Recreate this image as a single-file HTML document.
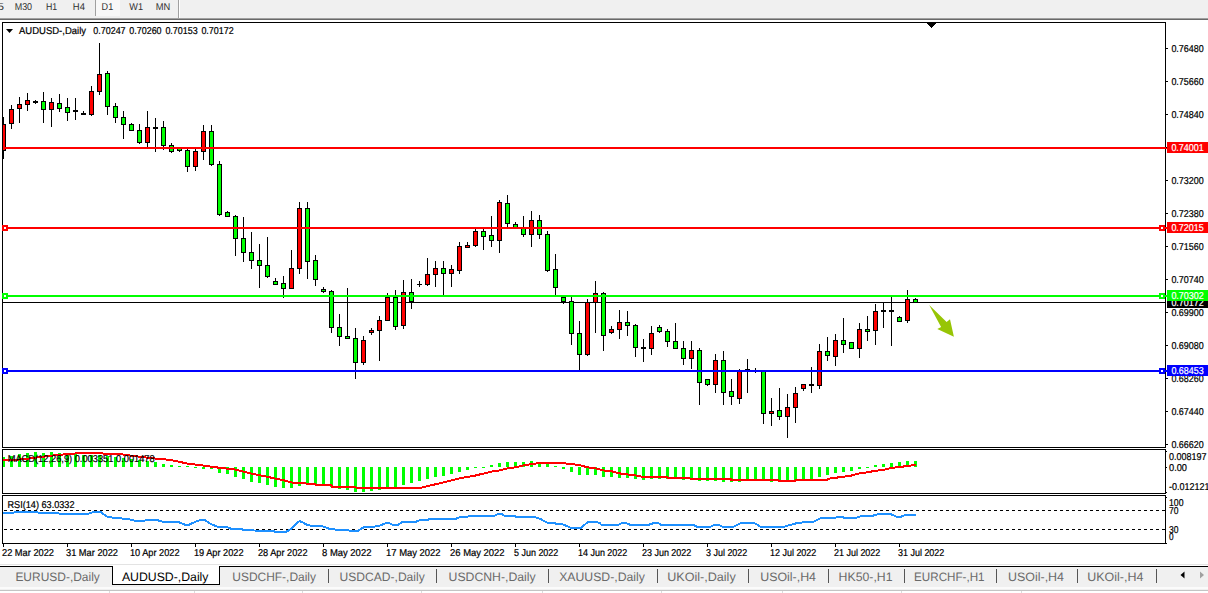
<!DOCTYPE html>
<html><head><meta charset="utf-8"><title>AUDUSD Daily</title>
<style>html,body{margin:0;padding:0;background:#fff;overflow:hidden}svg{display:block}text{font-family:"Liberation Sans",sans-serif}</style></head>
<body>
<svg width="1208" height="593" viewBox="0 0 1208 593" font-family="Liberation Sans, sans-serif" shape-rendering="crispEdges" text-rendering="geometricPrecision">
<rect x="0" y="0" width="1208" height="593" fill="#fff"/>
<rect x="0" y="0" width="1208" height="18" fill="#f0f0f0"/>
<rect x="0" y="18" width="1208" height="1" fill="#a0a0a0"/>
<rect x="0" y="19" width="1208" height="1" fill="#696969"/>
<rect x="96" y="0" width="24" height="16" fill="#f8f8f8"/>
<rect x="95" y="0" width="1" height="16" fill="#a0a0a0"/>
<rect x="178" y="0" width="1" height="18" fill="#a0a0a0"/>
<rect x="179" y="0" width="1" height="18" fill="#fff"/>
<g opacity="0.99">
<text x="-2.5" y="10" font-size="10" fill="#2e2e2e" textLength="6.5" lengthAdjust="spacingAndGlyphs">5</text>
<text x="14.7" y="10" font-size="10" fill="#2e2e2e" textLength="17.4" lengthAdjust="spacingAndGlyphs">M30</text>
<text x="45.9" y="10" font-size="10" fill="#2e2e2e" textLength="11.2" lengthAdjust="spacingAndGlyphs">H1</text>
<text x="72.8" y="10" font-size="10" fill="#2e2e2e" textLength="12.1" lengthAdjust="spacingAndGlyphs">H4</text>
<text x="101.6" y="10" font-size="10" fill="#2e2e2e" textLength="11.6" lengthAdjust="spacingAndGlyphs">D1</text>
<text x="129.3" y="10" font-size="10" fill="#2e2e2e" textLength="13.7" lengthAdjust="spacingAndGlyphs">W1</text>
<text x="155.8" y="10" font-size="10" fill="#2e2e2e" textLength="14.5" lengthAdjust="spacingAndGlyphs">MN</text>
</g>
<clipPath id="cm"><rect x="3" y="23" width="1162" height="424"/></clipPath>
<rect x="3" y="302" width="1162" height="1" fill="#000"/>
<g clip-path="url(#cm)">
<rect x="3" y="117" width="1" height="42" fill="#000"/><rect x="1" y="124" width="5" height="27" fill="#000"/><rect x="2" y="125" width="3" height="25" fill="#f00"/><rect x="11" y="105" width="1" height="24" fill="#000"/><rect x="9" y="109" width="5" height="15" fill="#000"/><rect x="10" y="110" width="3" height="13" fill="#f00"/><rect x="19" y="97" width="1" height="26" fill="#000"/><rect x="17" y="104" width="5" height="5" fill="#000"/><rect x="18" y="105" width="3" height="3" fill="#f00"/><rect x="27" y="93" width="1" height="18" fill="#000"/><rect x="25" y="100" width="5" height="5" fill="#000"/><rect x="26" y="101" width="3" height="3" fill="#f00"/><rect x="35" y="100" width="1" height="4" fill="#000"/><rect x="33" y="101" width="5" height="2" fill="#000"/><rect x="43" y="92" width="1" height="31" fill="#000"/><rect x="41" y="101" width="5" height="9" fill="#000"/><rect x="42" y="102" width="3" height="7" fill="#0f0"/><rect x="51" y="98" width="1" height="29" fill="#000"/><rect x="49" y="102" width="5" height="8" fill="#000"/><rect x="50" y="103" width="3" height="6" fill="#f00"/><rect x="59" y="94" width="1" height="18" fill="#000"/><rect x="57" y="103" width="5" height="6" fill="#000"/><rect x="58" y="104" width="3" height="4" fill="#0f0"/><rect x="67" y="98" width="1" height="23" fill="#000"/><rect x="65" y="107" width="5" height="6" fill="#000"/><rect x="66" y="108" width="3" height="4" fill="#0f0"/><rect x="75" y="98" width="1" height="22" fill="#000"/><rect x="73" y="110" width="5" height="2" fill="#000"/><rect x="83" y="111" width="1" height="4" fill="#000"/><rect x="81" y="113" width="5" height="2" fill="#000"/><rect x="91" y="86" width="1" height="30" fill="#000"/><rect x="89" y="91" width="5" height="24" fill="#000"/><rect x="90" y="92" width="3" height="22" fill="#f00"/><rect x="99" y="43" width="1" height="52" fill="#000"/><rect x="97" y="74" width="5" height="18" fill="#000"/><rect x="98" y="75" width="3" height="16" fill="#f00"/><rect x="107" y="71" width="1" height="44" fill="#000"/><rect x="105" y="73" width="5" height="34" fill="#000"/><rect x="106" y="74" width="3" height="32" fill="#0f0"/><rect x="115" y="103" width="1" height="20" fill="#000"/><rect x="113" y="106" width="5" height="12" fill="#000"/><rect x="114" y="107" width="3" height="10" fill="#0f0"/><rect x="123" y="111" width="1" height="28" fill="#000"/><rect x="121" y="117" width="5" height="8" fill="#000"/><rect x="122" y="118" width="3" height="6" fill="#0f0"/><rect x="131" y="123" width="1" height="8" fill="#000"/><rect x="129" y="124" width="5" height="7" fill="#000"/><rect x="130" y="125" width="3" height="5" fill="#0f0"/><rect x="139" y="124" width="1" height="20" fill="#000"/><rect x="137" y="130" width="5" height="13" fill="#000"/><rect x="138" y="131" width="3" height="11" fill="#0f0"/><rect x="147" y="111" width="1" height="36" fill="#000"/><rect x="145" y="127" width="5" height="16" fill="#000"/><rect x="146" y="128" width="3" height="14" fill="#f00"/><rect x="155" y="118" width="1" height="34" fill="#000"/><rect x="153" y="127" width="5" height="2" fill="#000"/><rect x="163" y="121" width="1" height="29" fill="#000"/><rect x="161" y="127" width="5" height="19" fill="#000"/><rect x="162" y="128" width="3" height="17" fill="#0f0"/><rect x="171" y="143" width="1" height="10" fill="#000"/><rect x="169" y="145" width="5" height="7" fill="#000"/><rect x="170" y="146" width="3" height="5" fill="#0f0"/><rect x="179" y="147" width="1" height="5" fill="#000"/><rect x="177" y="147" width="5" height="4" fill="#000"/><rect x="178" y="148" width="3" height="2" fill="#0f0"/><rect x="187" y="149" width="1" height="23" fill="#000"/><rect x="185" y="150" width="5" height="17" fill="#000"/><rect x="186" y="151" width="3" height="15" fill="#0f0"/><rect x="195" y="149" width="1" height="22" fill="#000"/><rect x="193" y="151" width="5" height="16" fill="#000"/><rect x="194" y="152" width="3" height="14" fill="#f00"/><rect x="203" y="125" width="1" height="35" fill="#000"/><rect x="201" y="131" width="5" height="21" fill="#000"/><rect x="202" y="132" width="3" height="19" fill="#f00"/><rect x="211" y="125" width="1" height="41" fill="#000"/><rect x="209" y="131" width="5" height="34" fill="#000"/><rect x="210" y="132" width="3" height="32" fill="#0f0"/><rect x="219" y="161" width="1" height="55" fill="#000"/><rect x="217" y="164" width="5" height="51" fill="#000"/><rect x="218" y="165" width="3" height="49" fill="#0f0"/><rect x="227" y="211" width="1" height="6" fill="#000"/><rect x="225" y="212" width="5" height="5" fill="#000"/><rect x="226" y="213" width="3" height="3" fill="#0f0"/><rect x="235" y="215" width="1" height="41" fill="#000"/><rect x="233" y="216" width="5" height="23" fill="#000"/><rect x="234" y="217" width="3" height="21" fill="#0f0"/><rect x="243" y="217" width="1" height="45" fill="#000"/><rect x="241" y="238" width="5" height="15" fill="#000"/><rect x="242" y="239" width="3" height="13" fill="#0f0"/><rect x="251" y="232" width="1" height="37" fill="#000"/><rect x="249" y="252" width="5" height="9" fill="#000"/><rect x="250" y="253" width="3" height="7" fill="#0f0"/><rect x="259" y="244" width="1" height="44" fill="#000"/><rect x="257" y="260" width="5" height="6" fill="#000"/><rect x="258" y="261" width="3" height="4" fill="#0f0"/><rect x="267" y="237" width="1" height="41" fill="#000"/><rect x="265" y="265" width="5" height="12" fill="#000"/><rect x="266" y="266" width="3" height="10" fill="#0f0"/><rect x="275" y="278" width="1" height="7" fill="#000"/><rect x="273" y="281" width="5" height="4" fill="#000"/><rect x="274" y="282" width="3" height="2" fill="#0f0"/><rect x="283" y="276" width="1" height="22" fill="#000"/><rect x="281" y="283" width="5" height="6" fill="#000"/><rect x="282" y="284" width="3" height="4" fill="#0f0"/><rect x="291" y="250" width="1" height="39" fill="#000"/><rect x="289" y="268" width="5" height="21" fill="#000"/><rect x="290" y="269" width="3" height="19" fill="#f00"/><rect x="299" y="202" width="1" height="72" fill="#000"/><rect x="297" y="208" width="5" height="61" fill="#000"/><rect x="298" y="209" width="3" height="59" fill="#f00"/><rect x="307" y="202" width="1" height="77" fill="#000"/><rect x="305" y="208" width="5" height="54" fill="#000"/><rect x="306" y="209" width="3" height="52" fill="#0f0"/><rect x="315" y="255" width="1" height="31" fill="#000"/><rect x="313" y="260" width="5" height="20" fill="#000"/><rect x="314" y="261" width="3" height="18" fill="#0f0"/><rect x="323" y="287" width="1" height="6" fill="#000"/><rect x="321" y="289" width="5" height="3" fill="#000"/><rect x="322" y="290" width="3" height="1" fill="#0f0"/><rect x="331" y="290" width="1" height="43" fill="#000"/><rect x="329" y="291" width="5" height="37" fill="#000"/><rect x="330" y="292" width="3" height="35" fill="#0f0"/><rect x="339" y="314" width="1" height="32" fill="#000"/><rect x="337" y="327" width="5" height="10" fill="#000"/><rect x="338" y="328" width="3" height="8" fill="#0f0"/><rect x="347" y="288" width="1" height="51" fill="#000"/><rect x="345" y="336" width="5" height="3" fill="#000"/><rect x="346" y="337" width="3" height="1" fill="#0f0"/><rect x="355" y="328" width="1" height="51" fill="#000"/><rect x="353" y="338" width="5" height="25" fill="#000"/><rect x="354" y="339" width="3" height="23" fill="#0f0"/><rect x="363" y="336" width="1" height="29" fill="#000"/><rect x="361" y="340" width="5" height="23" fill="#000"/><rect x="362" y="341" width="3" height="21" fill="#f00"/><rect x="371" y="328" width="1" height="7" fill="#000"/><rect x="369" y="330" width="5" height="3" fill="#000"/><rect x="370" y="331" width="3" height="1" fill="#f00"/><rect x="379" y="316" width="1" height="45" fill="#000"/><rect x="377" y="320" width="5" height="11" fill="#000"/><rect x="378" y="321" width="3" height="9" fill="#f00"/><rect x="387" y="293" width="1" height="28" fill="#000"/><rect x="385" y="297" width="5" height="24" fill="#000"/><rect x="386" y="298" width="3" height="22" fill="#f00"/><rect x="395" y="290" width="1" height="40" fill="#000"/><rect x="393" y="297" width="5" height="30" fill="#000"/><rect x="394" y="298" width="3" height="28" fill="#0f0"/><rect x="403" y="280" width="1" height="49" fill="#000"/><rect x="401" y="292" width="5" height="34" fill="#000"/><rect x="402" y="293" width="3" height="32" fill="#f00"/><rect x="411" y="279" width="1" height="30" fill="#000"/><rect x="409" y="292" width="5" height="10" fill="#000"/><rect x="410" y="293" width="3" height="8" fill="#0f0"/><rect x="419" y="281" width="1" height="6" fill="#000"/><rect x="417" y="284" width="5" height="1" fill="#000"/><rect x="427" y="258" width="1" height="28" fill="#000"/><rect x="425" y="274" width="5" height="11" fill="#000"/><rect x="426" y="275" width="3" height="9" fill="#f00"/><rect x="435" y="261" width="1" height="26" fill="#000"/><rect x="433" y="268" width="5" height="7" fill="#000"/><rect x="434" y="269" width="3" height="5" fill="#f00"/><rect x="443" y="261" width="1" height="34" fill="#000"/><rect x="441" y="268" width="5" height="6" fill="#000"/><rect x="442" y="269" width="3" height="4" fill="#0f0"/><rect x="451" y="265" width="1" height="22" fill="#000"/><rect x="449" y="269" width="5" height="5" fill="#000"/><rect x="450" y="270" width="3" height="3" fill="#f00"/><rect x="459" y="242" width="1" height="32" fill="#000"/><rect x="457" y="246" width="5" height="25" fill="#000"/><rect x="458" y="247" width="3" height="23" fill="#f00"/><rect x="467" y="242" width="1" height="6" fill="#000"/><rect x="465" y="245" width="5" height="3" fill="#000"/><rect x="466" y="246" width="3" height="1" fill="#f00"/><rect x="475" y="229" width="1" height="18" fill="#000"/><rect x="473" y="231" width="5" height="15" fill="#000"/><rect x="474" y="232" width="3" height="13" fill="#f00"/><rect x="483" y="229" width="1" height="21" fill="#000"/><rect x="481" y="231" width="5" height="6" fill="#000"/><rect x="482" y="232" width="3" height="4" fill="#0f0"/><rect x="491" y="216" width="1" height="31" fill="#000"/><rect x="489" y="235" width="5" height="6" fill="#000"/><rect x="490" y="236" width="3" height="4" fill="#0f0"/><rect x="499" y="200" width="1" height="53" fill="#000"/><rect x="497" y="202" width="5" height="39" fill="#000"/><rect x="498" y="203" width="3" height="37" fill="#f00"/><rect x="507" y="195" width="1" height="32" fill="#000"/><rect x="505" y="203" width="5" height="21" fill="#000"/><rect x="506" y="204" width="3" height="19" fill="#0f0"/><rect x="515" y="222" width="1" height="7" fill="#000"/><rect x="513" y="224" width="5" height="5" fill="#000"/><rect x="514" y="225" width="3" height="3" fill="#0f0"/><rect x="523" y="216" width="1" height="21" fill="#000"/><rect x="521" y="228" width="5" height="7" fill="#000"/><rect x="522" y="229" width="3" height="5" fill="#0f0"/><rect x="531" y="211" width="1" height="36" fill="#000"/><rect x="529" y="220" width="5" height="15" fill="#000"/><rect x="530" y="221" width="3" height="13" fill="#f00"/><rect x="539" y="215" width="1" height="24" fill="#000"/><rect x="537" y="220" width="5" height="15" fill="#000"/><rect x="538" y="221" width="3" height="13" fill="#0f0"/><rect x="547" y="231" width="1" height="41" fill="#000"/><rect x="545" y="234" width="5" height="37" fill="#000"/><rect x="546" y="235" width="3" height="35" fill="#0f0"/><rect x="555" y="254" width="1" height="41" fill="#000"/><rect x="553" y="269" width="5" height="19" fill="#000"/><rect x="554" y="270" width="3" height="17" fill="#0f0"/><rect x="563" y="297" width="1" height="7" fill="#000"/><rect x="561" y="297" width="5" height="5" fill="#000"/><rect x="562" y="298" width="3" height="3" fill="#0f0"/><rect x="571" y="297" width="1" height="48" fill="#000"/><rect x="569" y="301" width="5" height="33" fill="#000"/><rect x="570" y="302" width="3" height="31" fill="#0f0"/><rect x="579" y="321" width="1" height="49" fill="#000"/><rect x="577" y="333" width="5" height="22" fill="#000"/><rect x="578" y="334" width="3" height="20" fill="#0f0"/><rect x="587" y="299" width="1" height="57" fill="#000"/><rect x="585" y="302" width="5" height="53" fill="#000"/><rect x="586" y="303" width="3" height="51" fill="#f00"/><rect x="595" y="281" width="1" height="52" fill="#000"/><rect x="593" y="293" width="5" height="10" fill="#000"/><rect x="594" y="294" width="3" height="8" fill="#f00"/><rect x="603" y="292" width="1" height="59" fill="#000"/><rect x="601" y="293" width="5" height="43" fill="#000"/><rect x="602" y="294" width="3" height="41" fill="#0f0"/><rect x="611" y="326" width="1" height="8" fill="#000"/><rect x="609" y="329" width="5" height="4" fill="#000"/><rect x="610" y="330" width="3" height="2" fill="#f00"/><rect x="619" y="310" width="1" height="29" fill="#000"/><rect x="617" y="322" width="5" height="8" fill="#000"/><rect x="618" y="323" width="3" height="6" fill="#f00"/><rect x="627" y="311" width="1" height="25" fill="#000"/><rect x="625" y="322" width="5" height="4" fill="#000"/><rect x="626" y="323" width="3" height="2" fill="#0f0"/><rect x="635" y="324" width="1" height="33" fill="#000"/><rect x="633" y="325" width="5" height="23" fill="#000"/><rect x="634" y="326" width="3" height="21" fill="#0f0"/><rect x="643" y="339" width="1" height="23" fill="#000"/><rect x="641" y="347" width="5" height="2" fill="#000"/><rect x="651" y="326" width="1" height="29" fill="#000"/><rect x="649" y="333" width="5" height="16" fill="#000"/><rect x="650" y="334" width="3" height="14" fill="#f00"/><rect x="659" y="325" width="1" height="8" fill="#000"/><rect x="657" y="327" width="5" height="5" fill="#000"/><rect x="658" y="328" width="3" height="3" fill="#0f0"/><rect x="667" y="329" width="1" height="18" fill="#000"/><rect x="665" y="331" width="5" height="11" fill="#000"/><rect x="666" y="332" width="3" height="9" fill="#0f0"/><rect x="675" y="323" width="1" height="26" fill="#000"/><rect x="673" y="341" width="5" height="8" fill="#000"/><rect x="674" y="342" width="3" height="6" fill="#0f0"/><rect x="683" y="341" width="1" height="24" fill="#000"/><rect x="681" y="348" width="5" height="11" fill="#000"/><rect x="682" y="349" width="3" height="9" fill="#0f0"/><rect x="691" y="341" width="1" height="28" fill="#000"/><rect x="689" y="350" width="5" height="9" fill="#000"/><rect x="690" y="351" width="3" height="7" fill="#f00"/><rect x="699" y="348" width="1" height="57" fill="#000"/><rect x="697" y="350" width="5" height="33" fill="#000"/><rect x="698" y="351" width="3" height="31" fill="#0f0"/><rect x="707" y="379" width="1" height="7" fill="#000"/><rect x="705" y="379" width="5" height="6" fill="#000"/><rect x="706" y="380" width="3" height="4" fill="#0f0"/><rect x="715" y="354" width="1" height="39" fill="#000"/><rect x="713" y="360" width="5" height="25" fill="#000"/><rect x="714" y="361" width="3" height="23" fill="#f00"/><rect x="723" y="351" width="1" height="54" fill="#000"/><rect x="721" y="360" width="5" height="33" fill="#000"/><rect x="722" y="361" width="3" height="31" fill="#0f0"/><rect x="731" y="379" width="1" height="26" fill="#000"/><rect x="729" y="391" width="5" height="6" fill="#000"/><rect x="730" y="392" width="3" height="4" fill="#0f0"/><rect x="739" y="369" width="1" height="35" fill="#000"/><rect x="737" y="371" width="5" height="28" fill="#000"/><rect x="738" y="372" width="3" height="26" fill="#f00"/><rect x="747" y="359" width="1" height="34" fill="#000"/><rect x="745" y="369" width="5" height="2" fill="#000"/><rect x="755" y="368" width="1" height="5" fill="#000"/><rect x="753" y="370" width="5" height="1" fill="#000"/><rect x="763" y="371" width="1" height="53" fill="#000"/><rect x="761" y="371" width="5" height="43" fill="#000"/><rect x="762" y="372" width="3" height="41" fill="#0f0"/><rect x="771" y="398" width="1" height="28" fill="#000"/><rect x="769" y="411" width="5" height="3" fill="#000"/><rect x="770" y="412" width="3" height="1" fill="#f00"/><rect x="779" y="388" width="1" height="32" fill="#000"/><rect x="777" y="410" width="5" height="7" fill="#000"/><rect x="778" y="411" width="3" height="5" fill="#0f0"/><rect x="787" y="394" width="1" height="44" fill="#000"/><rect x="785" y="407" width="5" height="10" fill="#000"/><rect x="786" y="408" width="3" height="8" fill="#f00"/><rect x="795" y="387" width="1" height="36" fill="#000"/><rect x="793" y="393" width="5" height="15" fill="#000"/><rect x="794" y="394" width="3" height="13" fill="#f00"/><rect x="803" y="384" width="1" height="7" fill="#000"/><rect x="801" y="384" width="5" height="5" fill="#000"/><rect x="802" y="385" width="3" height="3" fill="#f00"/><rect x="811" y="367" width="1" height="26" fill="#000"/><rect x="809" y="384" width="5" height="2" fill="#000"/><rect x="819" y="344" width="1" height="45" fill="#000"/><rect x="817" y="351" width="5" height="35" fill="#000"/><rect x="818" y="352" width="3" height="33" fill="#f00"/><rect x="827" y="337" width="1" height="24" fill="#000"/><rect x="825" y="351" width="5" height="5" fill="#000"/><rect x="826" y="352" width="3" height="3" fill="#0f0"/><rect x="835" y="334" width="1" height="32" fill="#000"/><rect x="833" y="340" width="5" height="17" fill="#000"/><rect x="834" y="341" width="3" height="15" fill="#f00"/><rect x="843" y="318" width="1" height="35" fill="#000"/><rect x="841" y="340" width="5" height="5" fill="#000"/><rect x="842" y="341" width="3" height="3" fill="#0f0"/><rect x="851" y="342" width="1" height="7" fill="#000"/><rect x="849" y="342" width="5" height="7" fill="#000"/><rect x="850" y="343" width="3" height="5" fill="#0f0"/><rect x="859" y="323" width="1" height="35" fill="#000"/><rect x="857" y="329" width="5" height="20" fill="#000"/><rect x="858" y="330" width="3" height="18" fill="#f00"/><rect x="867" y="316" width="1" height="25" fill="#000"/><rect x="865" y="329" width="5" height="3" fill="#000"/><rect x="866" y="330" width="3" height="1" fill="#0f0"/><rect x="875" y="304" width="1" height="41" fill="#000"/><rect x="873" y="311" width="5" height="20" fill="#000"/><rect x="874" y="312" width="3" height="18" fill="#f00"/><rect x="883" y="302" width="1" height="26" fill="#000"/><rect x="881" y="310" width="5" height="2" fill="#000"/><rect x="891" y="297" width="1" height="49" fill="#000"/><rect x="889" y="310" width="5" height="2" fill="#000"/><rect x="899" y="316" width="1" height="6" fill="#000"/><rect x="897" y="317" width="5" height="5" fill="#000"/><rect x="898" y="318" width="3" height="3" fill="#0f0"/><rect x="907" y="290" width="1" height="33" fill="#000"/><rect x="905" y="299" width="5" height="22" fill="#000"/><rect x="906" y="300" width="3" height="20" fill="#f00"/><rect x="915" y="298" width="1" height="5" fill="#000"/><rect x="913" y="299" width="5" height="4" fill="#000"/><rect x="914" y="300" width="3" height="2" fill="#0f0"/>
</g>
<rect x="2" y="22" width="1164" height="1" fill="#000"/><rect x="2" y="447" width="1164" height="1" fill="#000"/><rect x="2" y="22" width="1" height="426" fill="#000"/><rect x="1165" y="22" width="1" height="426" fill="#000"/>
<rect x="927" y="23" width="9" height="1" fill="#000"/>
<rect x="928" y="24" width="7" height="1" fill="#000"/>
<rect x="929" y="25" width="5" height="1" fill="#000"/>
<rect x="930" y="26" width="3" height="1" fill="#000"/>
<rect x="931" y="27" width="1" height="1" fill="#000"/>
<rect x="3" y="147" width="1164" height="2" fill="#f00"/>
<rect x="3" y="227" width="1164" height="2" fill="#f00"/>
<rect x="3" y="295" width="1164" height="2" fill="#0f0"/>
<rect x="3" y="370" width="1164" height="2" fill="#00f"/>
<polygon shape-rendering="auto" points="929.2,305.1 946.6,322 950,319.3 953.9,336.7 937.3,329.1 941.1,327" fill="#97c505"/>
<rect x="2" y="225" width="6" height="6" fill="#f00"/><rect x="4" y="227" width="2" height="2" fill="#fff"/>
<rect x="1159" y="225" width="6" height="6" fill="#f00"/><rect x="1161" y="227" width="2" height="2" fill="#fff"/>
<rect x="2" y="293" width="6" height="6" fill="#0f0"/><rect x="4" y="295" width="2" height="2" fill="#fff"/>
<rect x="1159" y="293" width="6" height="6" fill="#0f0"/><rect x="1161" y="295" width="2" height="2" fill="#fff"/>
<rect x="2" y="368" width="6" height="6" fill="#00f"/><rect x="4" y="370" width="2" height="2" fill="#fff"/>
<rect x="1159" y="368" width="6" height="6" fill="#00f"/><rect x="1161" y="370" width="2" height="2" fill="#fff"/>
<rect x="1166" y="48" width="2" height="1" fill="#000"/>
<text x="1171.4" y="52" font-size="10" fill="#000" textLength="32.3" lengthAdjust="spacingAndGlyphs" stroke="#000" stroke-width="0.22">0.76480</text>
<rect x="1166" y="81" width="2" height="1" fill="#000"/>
<text x="1171.4" y="85" font-size="10" fill="#000" textLength="32.3" lengthAdjust="spacingAndGlyphs" stroke="#000" stroke-width="0.22">0.75660</text>
<rect x="1166" y="114" width="2" height="1" fill="#000"/>
<text x="1171.4" y="118" font-size="10" fill="#000" textLength="32.3" lengthAdjust="spacingAndGlyphs" stroke="#000" stroke-width="0.22">0.74840</text>
<rect x="1166" y="147" width="2" height="1" fill="#000"/>
<text x="1171.4" y="151" font-size="10" fill="#000" textLength="32.3" lengthAdjust="spacingAndGlyphs" stroke="#000" stroke-width="0.22">0.74020</text>
<rect x="1166" y="180" width="2" height="1" fill="#000"/>
<text x="1171.4" y="184" font-size="10" fill="#000" textLength="32.3" lengthAdjust="spacingAndGlyphs" stroke="#000" stroke-width="0.22">0.73200</text>
<rect x="1166" y="213" width="2" height="1" fill="#000"/>
<text x="1171.4" y="217" font-size="10" fill="#000" textLength="32.3" lengthAdjust="spacingAndGlyphs" stroke="#000" stroke-width="0.22">0.72380</text>
<rect x="1166" y="246" width="2" height="1" fill="#000"/>
<text x="1171.4" y="250" font-size="10" fill="#000" textLength="32.3" lengthAdjust="spacingAndGlyphs" stroke="#000" stroke-width="0.22">0.71560</text>
<rect x="1166" y="279" width="2" height="1" fill="#000"/>
<text x="1171.4" y="283" font-size="10" fill="#000" textLength="32.3" lengthAdjust="spacingAndGlyphs" stroke="#000" stroke-width="0.22">0.70740</text>
<rect x="1166" y="312" width="2" height="1" fill="#000"/>
<text x="1171.4" y="316" font-size="10" fill="#000" textLength="32.3" lengthAdjust="spacingAndGlyphs" stroke="#000" stroke-width="0.22">0.69900</text>
<rect x="1166" y="345" width="2" height="1" fill="#000"/>
<text x="1171.4" y="349" font-size="10" fill="#000" textLength="32.3" lengthAdjust="spacingAndGlyphs" stroke="#000" stroke-width="0.22">0.69080</text>
<rect x="1166" y="378" width="2" height="1" fill="#000"/>
<text x="1171.4" y="382" font-size="10" fill="#000" textLength="32.3" lengthAdjust="spacingAndGlyphs" stroke="#000" stroke-width="0.22">0.68260</text>
<rect x="1166" y="411" width="2" height="1" fill="#000"/>
<text x="1171.4" y="415" font-size="10" fill="#000" textLength="32.3" lengthAdjust="spacingAndGlyphs" stroke="#000" stroke-width="0.22">0.67440</text>
<rect x="1166" y="444" width="2" height="1" fill="#000"/>
<text x="1171.4" y="448" font-size="10" fill="#000" textLength="32.3" lengthAdjust="spacingAndGlyphs" stroke="#000" stroke-width="0.22">0.66620</text>
<rect x="1167" y="297" width="41" height="11" fill="#000"/><text x="1171.4" y="306" font-size="10" fill="#fff" textLength="32.3" lengthAdjust="spacingAndGlyphs" stroke="#fff" stroke-width="0.22">0.70172</text>
<rect x="1167" y="142" width="41" height="11" fill="#f00"/><text x="1171.4" y="151" font-size="10" fill="#fff" textLength="32.3" lengthAdjust="spacingAndGlyphs" stroke="#fff" stroke-width="0.22">0.74001</text>
<rect x="1167" y="222" width="41" height="11" fill="#f00"/><text x="1171.4" y="231" font-size="10" fill="#fff" textLength="32.3" lengthAdjust="spacingAndGlyphs" stroke="#fff" stroke-width="0.22">0.72015</text>
<rect x="1167" y="290" width="41" height="11" fill="#0f0"/><text x="1171.4" y="299" font-size="10" fill="#fff" textLength="32.3" lengthAdjust="spacingAndGlyphs" stroke="#fff" stroke-width="0.22">0.70302</text>
<rect x="1167" y="365" width="41" height="11" fill="#00f"/><text x="1171.4" y="374" font-size="10" fill="#fff" textLength="32.3" lengthAdjust="spacingAndGlyphs" stroke="#fff" stroke-width="0.22">0.68453</text>
<polygon points="6,29 13,29 9.5,33" fill="#000" shape-rendering="auto"/>
<text x="19" y="34" font-size="10" fill="#000" textLength="67" lengthAdjust="spacingAndGlyphs" stroke="#000" stroke-width="0.22">AUDUSD-,Daily</text>
<text x="93.3" y="34" font-size="10" fill="#000" textLength="32.3" lengthAdjust="spacingAndGlyphs" stroke="#000" stroke-width="0.22">0.70247</text>
<text x="129.3" y="34" font-size="10" fill="#000" textLength="32.3" lengthAdjust="spacingAndGlyphs" stroke="#000" stroke-width="0.22">0.70260</text>
<text x="165.4" y="34" font-size="10" fill="#000" textLength="32.3" lengthAdjust="spacingAndGlyphs" stroke="#000" stroke-width="0.22">0.70153</text>
<text x="201.4" y="34" font-size="10" fill="#000" textLength="32.3" lengthAdjust="spacingAndGlyphs" stroke="#000" stroke-width="0.22">0.70172</text>
<clipPath id="c2"><rect x="3" y="450" width="1162" height="43"/></clipPath>
<g clip-path="url(#c2)">
<rect x="2" y="457" width="3" height="10" fill="#0f0"/><rect x="10" y="456" width="3" height="11" fill="#0f0"/><rect x="18" y="454" width="3" height="13" fill="#0f0"/><rect x="26" y="453" width="3" height="14" fill="#0f0"/><rect x="34" y="452" width="3" height="15" fill="#0f0"/><rect x="42" y="453" width="3" height="14" fill="#0f0"/><rect x="50" y="452" width="3" height="15" fill="#0f0"/><rect x="58" y="453" width="3" height="14" fill="#0f0"/><rect x="66" y="453" width="3" height="14" fill="#0f0"/><rect x="74" y="454" width="3" height="13" fill="#0f0"/><rect x="82" y="455" width="3" height="12" fill="#0f0"/><rect x="90" y="455" width="3" height="12" fill="#0f0"/><rect x="98" y="455" width="3" height="12" fill="#0f0"/><rect x="106" y="456" width="3" height="11" fill="#0f0"/><rect x="114" y="457" width="3" height="10" fill="#0f0"/><rect x="122" y="458" width="3" height="9" fill="#0f0"/><rect x="130" y="459" width="3" height="8" fill="#0f0"/><rect x="138" y="460" width="3" height="7" fill="#0f0"/><rect x="146" y="461" width="3" height="6" fill="#0f0"/><rect x="154" y="462" width="3" height="5" fill="#0f0"/><rect x="162" y="464" width="3" height="3" fill="#0f0"/><rect x="170" y="465" width="3" height="2" fill="#0f0"/><rect x="178" y="466" width="3" height="1" fill="#0f0"/><rect x="186" y="466" width="3" height="1" fill="#0f0"/><rect x="194" y="467" width="3" height="1" fill="#0f0"/><rect x="202" y="467" width="3" height="2" fill="#0f0"/><rect x="210" y="467" width="3" height="2" fill="#0f0"/><rect x="218" y="467" width="3" height="6" fill="#0f0"/><rect x="226" y="467" width="3" height="7" fill="#0f0"/><rect x="234" y="467" width="3" height="10" fill="#0f0"/><rect x="242" y="467" width="3" height="12" fill="#0f0"/><rect x="250" y="467" width="3" height="15" fill="#0f0"/><rect x="258" y="467" width="3" height="16" fill="#0f0"/><rect x="266" y="467" width="3" height="18" fill="#0f0"/><rect x="274" y="467" width="3" height="20" fill="#0f0"/><rect x="282" y="467" width="3" height="21" fill="#0f0"/><rect x="290" y="467" width="3" height="21" fill="#0f0"/><rect x="298" y="467" width="3" height="19" fill="#0f0"/><rect x="306" y="467" width="3" height="16" fill="#0f0"/><rect x="314" y="467" width="3" height="17" fill="#0f0"/><rect x="322" y="467" width="3" height="17" fill="#0f0"/><rect x="330" y="467" width="3" height="20" fill="#0f0"/><rect x="338" y="467" width="3" height="22" fill="#0f0"/><rect x="346" y="467" width="3" height="23" fill="#0f0"/><rect x="354" y="467" width="3" height="25" fill="#0f0"/><rect x="362" y="467" width="3" height="25" fill="#0f0"/><rect x="370" y="467" width="3" height="24" fill="#0f0"/><rect x="378" y="467" width="3" height="23" fill="#0f0"/><rect x="386" y="467" width="3" height="21" fill="#0f0"/><rect x="394" y="467" width="3" height="21" fill="#0f0"/><rect x="402" y="467" width="3" height="18" fill="#0f0"/><rect x="410" y="467" width="3" height="16" fill="#0f0"/><rect x="418" y="467" width="3" height="14" fill="#0f0"/><rect x="426" y="467" width="3" height="12" fill="#0f0"/><rect x="434" y="467" width="3" height="10" fill="#0f0"/><rect x="442" y="467" width="3" height="9" fill="#0f0"/><rect x="450" y="467" width="3" height="7" fill="#0f0"/><rect x="458" y="467" width="3" height="5" fill="#0f0"/><rect x="466" y="467" width="3" height="3" fill="#0f0"/><rect x="474" y="467" width="3" height="1" fill="#0f0"/><rect x="482" y="467" width="3" height="1" fill="#0f0"/><rect x="490" y="465" width="3" height="2" fill="#0f0"/><rect x="498" y="463" width="3" height="4" fill="#0f0"/><rect x="506" y="462" width="3" height="5" fill="#0f0"/><rect x="514" y="462" width="3" height="5" fill="#0f0"/><rect x="522" y="462" width="3" height="5" fill="#0f0"/><rect x="530" y="461" width="3" height="6" fill="#0f0"/><rect x="538" y="462" width="3" height="5" fill="#0f0"/><rect x="546" y="464" width="3" height="3" fill="#0f0"/><rect x="554" y="466" width="3" height="1" fill="#0f0"/><rect x="562" y="467" width="3" height="2" fill="#0f0"/><rect x="570" y="467" width="3" height="5" fill="#0f0"/><rect x="578" y="467" width="3" height="8" fill="#0f0"/><rect x="586" y="467" width="3" height="8" fill="#0f0"/><rect x="594" y="467" width="3" height="8" fill="#0f0"/><rect x="602" y="467" width="3" height="10" fill="#0f0"/><rect x="610" y="467" width="3" height="10" fill="#0f0"/><rect x="618" y="467" width="3" height="11" fill="#0f0"/><rect x="626" y="467" width="3" height="11" fill="#0f0"/><rect x="634" y="467" width="3" height="12" fill="#0f0"/><rect x="642" y="467" width="3" height="13" fill="#0f0"/><rect x="650" y="467" width="3" height="12" fill="#0f0"/><rect x="658" y="467" width="3" height="12" fill="#0f0"/><rect x="666" y="467" width="3" height="12" fill="#0f0"/><rect x="674" y="467" width="3" height="12" fill="#0f0"/><rect x="682" y="467" width="3" height="13" fill="#0f0"/><rect x="690" y="467" width="3" height="12" fill="#0f0"/><rect x="698" y="467" width="3" height="14" fill="#0f0"/><rect x="706" y="467" width="3" height="14" fill="#0f0"/><rect x="714" y="467" width="3" height="14" fill="#0f0"/><rect x="722" y="467" width="3" height="15" fill="#0f0"/><rect x="730" y="467" width="3" height="15" fill="#0f0"/><rect x="738" y="467" width="3" height="15" fill="#0f0"/><rect x="746" y="467" width="3" height="13" fill="#0f0"/><rect x="754" y="467" width="3" height="13" fill="#0f0"/><rect x="762" y="467" width="3" height="13" fill="#0f0"/><rect x="770" y="467" width="3" height="15" fill="#0f0"/><rect x="778" y="467" width="3" height="14" fill="#0f0"/><rect x="786" y="467" width="3" height="14" fill="#0f0"/><rect x="794" y="467" width="3" height="14" fill="#0f0"/><rect x="802" y="467" width="3" height="12" fill="#0f0"/><rect x="810" y="467" width="3" height="12" fill="#0f0"/><rect x="818" y="467" width="3" height="10" fill="#0f0"/><rect x="826" y="467" width="3" height="8" fill="#0f0"/><rect x="834" y="467" width="3" height="6" fill="#0f0"/><rect x="842" y="467" width="3" height="5" fill="#0f0"/><rect x="850" y="467" width="3" height="4" fill="#0f0"/><rect x="858" y="467" width="3" height="2" fill="#0f0"/><rect x="866" y="467" width="3" height="1" fill="#0f0"/><rect x="874" y="465" width="3" height="2" fill="#0f0"/><rect x="882" y="464" width="3" height="3" fill="#0f0"/><rect x="890" y="463" width="3" height="4" fill="#0f0"/><rect x="898" y="462" width="3" height="5" fill="#0f0"/><rect x="906" y="461" width="3" height="6" fill="#0f0"/><rect x="914" y="461" width="3" height="6" fill="#0f0"/>
<polyline points="3.0,460.1 11.0,459.9 19.0,459.5 27.0,458.7 35.0,457.8 43.0,456.7 51.0,455.7 59.0,454.9 67.0,454.1 75.0,453.5 83.0,453.1 91.0,453.0 99.0,453.2 107.0,453.8 115.0,454.1 123.0,454.5 131.5,455.8 154.6,458.5 171.0,460.0 187.0,463.5 202.6,465.5 219.0,467.7 235.0,469.5 250.7,473.5 267.2,476.8 283.0,480.1 292.0,482.6 300.0,483.3 315.0,483.8 316.0,485.0 331.0,485.0 332.0,486.5 355.0,486.5 356.0,487.5 372.0,487.5 373.0,488.3 418.4,488.3 425.8,486.5 442.4,482.7 459.0,478.5 475.5,475.5 492.0,471.5 500.0,470.3 507.5,468.3 515.7,467.3 523.0,465.5 531.5,464.1 539.7,463.1 563.0,463.1 571.0,464.1 579.5,465.0 587.0,467.3 595.0,468.3 603.5,470.5 611.0,471.1 619.0,473.3 627.5,474.4 635.8,475.5 643.0,476.8 667.0,477.2 668.0,478.1 700.0,478.7 730.6,478.9 731.5,480.2 778.6,480.2 779.5,481.4 795.0,481.4 796.0,480.2 826.7,480.2 827.5,478.9 835.8,477.7 843.0,476.9 851.5,475.5 859.0,473.5 867.0,472.3 875.5,470.8 883.8,469.8 892.0,467.8 900.0,467.0 907.0,466.0 916.0,464.9" fill="none" stroke="#f00" stroke-width="2"/>
</g>
<rect x="2" y="449" width="1164" height="1" fill="#000"/><rect x="2" y="493" width="1164" height="1" fill="#000"/><rect x="2" y="449" width="1" height="45" fill="#000"/><rect x="1165" y="449" width="1" height="45" fill="#000"/>
<text x="7.7" y="462" font-size="10" fill="#000" textLength="147" lengthAdjust="spacingAndGlyphs" stroke="#000" stroke-width="0.22">MACD(12,26,9) 0.003351 0.001478</text>
<rect x="1166" y="451" width="1" height="1" fill="#000"/>
<rect x="1166" y="467" width="1" height="1" fill="#000"/>
<rect x="1166" y="492" width="1" height="1" fill="#000"/>
<text x="1169" y="460" font-size="10" fill="#000" textLength="37.5" lengthAdjust="spacingAndGlyphs" stroke="#000" stroke-width="0.22">0.008197</text>
<text x="1169" y="471" font-size="10" fill="#000" textLength="18" lengthAdjust="spacingAndGlyphs" stroke="#000" stroke-width="0.22">0.00</text>
<text x="1169" y="490" font-size="10" fill="#000" textLength="40.5" lengthAdjust="spacingAndGlyphs" stroke="#000" stroke-width="0.22">-0.012121</text>
<clipPath id="c3"><rect x="3" y="496" width="1162" height="47"/></clipPath>
<g clip-path="url(#c3)">
<line x1="4" y1="510.5" x2="1165" y2="510.5" stroke="#000" stroke-width="1" stroke-dasharray="3 3"/>
<line x1="4" y1="529.5" x2="1165" y2="529.5" stroke="#000" stroke-width="1" stroke-dasharray="3 3"/>
<polyline points="3.0,512.9 11.6,512.9 19.9,511.7 35.6,511.7 39.7,512.9 58.8,513.4 60.4,514.2 86.9,514.2 95.2,511.6 100.2,511.6 107.6,517.0 115.9,517.9 124.2,518.7 131.6,519.8 136.6,521.2 142.4,521.2 149.0,519.5 154.8,519.5 163.9,522.0 179.6,522.5 184.6,524.5 189.6,524.5 195.4,521.7 200.0,520.3 205.0,520.0 210.0,523.6 218.2,527.0 227.3,527.3 232.3,529.1 242.2,529.4 244.7,530.3 258.8,530.6 260.4,531.4 274.5,531.4 276.2,532.3 285.3,532.3 290.2,529.4 299.3,521.2 301.3,521.7 307.6,525.0 312.6,526.1 323.3,526.5 330.8,529.4 346.5,529.8 349.0,530.6 358.1,530.6 363.9,527.3 370.5,527.0 378.8,526.1 385.4,523.3 389.6,523.3 393.7,525.3 397.0,525.3 400.0,523.6 402.5,522.0 414.9,522.0 419.9,520.3 427.3,520.3 429.0,519.2 454.6,519.2 460.4,517.0 466.2,517.0 468.7,516.2 493.5,516.2 497.7,514.2 501.8,514.2 505.1,516.2 515.0,516.2 516.7,517.0 534.9,517.0 540.7,519.2 548.2,523.1 554.8,523.1 556.5,524.1 563.1,524.5 572.2,528.3 580.5,528.3 587.9,522.0 597.0,522.0 600.0,523.3 601.0,524.5 619.0,524.5 621.5,523.3 626.5,523.3 631.5,525.3 647.2,525.3 653.0,523.3 658.8,523.3 660.4,524.5 666.2,524.5 668.7,525.3 694.4,525.3 697.7,527.3 709.3,527.3 713.4,525.3 719.2,525.3 724.2,527.3 732.5,527.3 740.7,523.3 754.8,523.3 761.4,527.3 783.0,527.3 787.9,525.6 796.2,523.3 804.0,522.3 813.1,522.0 820.6,518.2 835.5,517.9 837.1,517.0 842.9,517.0 844.6,518.2 854.5,518.2 861.1,516.2 871.1,516.2 876.9,514.5 890.9,514.2 895.9,516.5 901.7,516.5 905.8,514.5 915.8,514.5" fill="none" stroke="#1e90ff" stroke-width="2"/>
</g>
<rect x="2" y="495" width="1164" height="1" fill="#000"/><rect x="2" y="543" width="1164" height="1" fill="#000"/><rect x="2" y="495" width="1" height="49" fill="#000"/><rect x="1165" y="495" width="1" height="49" fill="#000"/>
<text x="7.5" y="508" font-size="10" fill="#000" textLength="67" lengthAdjust="spacingAndGlyphs" stroke="#000" stroke-width="0.22">RSI(14) 63.0332</text>
<rect x="1166" y="497" width="1" height="1" fill="#000"/>
<rect x="1166" y="543" width="1" height="1" fill="#000"/>
<text x="1169" y="506" font-size="10" fill="#000" textLength="14.5" lengthAdjust="spacingAndGlyphs" stroke="#000" stroke-width="0.22">100</text>
<text x="1169" y="514" font-size="10" fill="#000" textLength="9.5" lengthAdjust="spacingAndGlyphs" stroke="#000" stroke-width="0.22">70</text>
<text x="1169" y="533" font-size="10" fill="#000" textLength="9.5" lengthAdjust="spacingAndGlyphs" stroke="#000" stroke-width="0.22">30</text>
<text x="1169" y="540" font-size="10" fill="#000" textLength="4.6" lengthAdjust="spacingAndGlyphs" stroke="#000" stroke-width="0.22">0</text>
<rect x="3" y="544" width="1" height="3" fill="#000"/>
<text x="2" y="556" font-size="10" fill="#000" textLength="52.0" lengthAdjust="spacingAndGlyphs" stroke="#000" stroke-width="0.22">22 Mar 2022</text>
<rect x="67" y="544" width="1" height="3" fill="#000"/>
<text x="66" y="556" font-size="10" fill="#000" textLength="52.0" lengthAdjust="spacingAndGlyphs" stroke="#000" stroke-width="0.22">31 Mar 2022</text>
<rect x="131" y="544" width="1" height="3" fill="#000"/>
<text x="130" y="556" font-size="10" fill="#000" textLength="49.5" lengthAdjust="spacingAndGlyphs" stroke="#000" stroke-width="0.22">10 Apr 2022</text>
<rect x="195" y="544" width="1" height="3" fill="#000"/>
<text x="194" y="556" font-size="10" fill="#000" textLength="49.5" lengthAdjust="spacingAndGlyphs" stroke="#000" stroke-width="0.22">19 Apr 2022</text>
<rect x="259" y="544" width="1" height="3" fill="#000"/>
<text x="258" y="556" font-size="10" fill="#000" textLength="49.5" lengthAdjust="spacingAndGlyphs" stroke="#000" stroke-width="0.22">28 Apr 2022</text>
<rect x="323" y="544" width="1" height="3" fill="#000"/>
<text x="322" y="556" font-size="10" fill="#000" textLength="49.4" lengthAdjust="spacingAndGlyphs" stroke="#000" stroke-width="0.22">8 May 2022</text>
<rect x="387" y="544" width="1" height="3" fill="#000"/>
<text x="386" y="556" font-size="10" fill="#000" textLength="54.6" lengthAdjust="spacingAndGlyphs" stroke="#000" stroke-width="0.22">17 May 2022</text>
<rect x="451" y="544" width="1" height="3" fill="#000"/>
<text x="450" y="556" font-size="10" fill="#000" textLength="54.6" lengthAdjust="spacingAndGlyphs" stroke="#000" stroke-width="0.22">26 May 2022</text>
<rect x="515" y="544" width="1" height="3" fill="#000"/>
<text x="514" y="556" font-size="10" fill="#000" textLength="44.3" lengthAdjust="spacingAndGlyphs" stroke="#000" stroke-width="0.22">5 Jun 2022</text>
<rect x="579" y="544" width="1" height="3" fill="#000"/>
<text x="578" y="556" font-size="10" fill="#000" textLength="49.3" lengthAdjust="spacingAndGlyphs" stroke="#000" stroke-width="0.22">14 Jun 2022</text>
<rect x="643" y="544" width="1" height="3" fill="#000"/>
<text x="642" y="556" font-size="10" fill="#000" textLength="49.3" lengthAdjust="spacingAndGlyphs" stroke="#000" stroke-width="0.22">23 Jun 2022</text>
<rect x="707" y="544" width="1" height="3" fill="#000"/>
<text x="706" y="556" font-size="10" fill="#000" textLength="41.3" lengthAdjust="spacingAndGlyphs" stroke="#000" stroke-width="0.22">3 Jul 2022</text>
<rect x="771" y="544" width="1" height="3" fill="#000"/>
<text x="770" y="556" font-size="10" fill="#000" textLength="46.3" lengthAdjust="spacingAndGlyphs" stroke="#000" stroke-width="0.22">12 Jul 2022</text>
<rect x="835" y="544" width="1" height="3" fill="#000"/>
<text x="834" y="556" font-size="10" fill="#000" textLength="46.3" lengthAdjust="spacingAndGlyphs" stroke="#000" stroke-width="0.22">21 Jul 2022</text>
<rect x="899" y="544" width="1" height="3" fill="#000"/>
<text x="898" y="556" font-size="10" fill="#000" textLength="46.3" lengthAdjust="spacingAndGlyphs" stroke="#000" stroke-width="0.22">31 Jul 2022</text>
<rect x="0" y="564" width="1208" height="1" fill="#e3e3e3"/>
<rect x="0" y="566" width="1208" height="27" fill="#f0f0f0"/>
<rect x="113" y="565" width="106" height="19" fill="#fff"/>
<rect x="0" y="566" width="113" height="1" fill="#000"/>
<rect x="219" y="566" width="989" height="1" fill="#000"/>
<rect x="112" y="566" width="1" height="19" fill="#000"/>
<rect x="219" y="566" width="1" height="19" fill="#000"/>
<rect x="112" y="584" width="108" height="1" fill="#000"/>
<rect x="0" y="587" width="1208" height="2" fill="#fbfbfb"/>
<rect x="0" y="590" width="1208" height="1" fill="#c4c4c4"/>
<rect x="0" y="591" width="1208" height="2" fill="#fff"/>
<rect x="109" y="591" width="1" height="2" fill="#dcdcdc"/>
<rect x="194" y="591" width="1" height="2" fill="#dcdcdc"/>
<rect x="302" y="591" width="1" height="2" fill="#dcdcdc"/>
<rect x="421" y="591" width="1" height="2" fill="#dcdcdc"/>
<rect x="542" y="591" width="1" height="2" fill="#dcdcdc"/>
<rect x="661" y="591" width="1" height="2" fill="#dcdcdc"/>
<rect x="782" y="591" width="1" height="2" fill="#dcdcdc"/>
<rect x="901" y="591" width="1" height="2" fill="#dcdcdc"/>
<rect x="1021" y="591" width="1" height="2" fill="#dcdcdc"/>
<text x="15.4" y="581" font-size="12.2" fill="#6a6a6a" textLength="84.4" lengthAdjust="spacingAndGlyphs">EURUSD-,Daily</text>
<text x="121.9" y="581" font-size="12.2" fill="#000" textLength="86.6" lengthAdjust="spacingAndGlyphs">AUDUSD-,Daily</text>
<text x="232.3" y="581" font-size="12.2" fill="#6a6a6a" textLength="83.7" lengthAdjust="spacingAndGlyphs">USDCHF-,Daily</text>
<text x="339.6" y="581" font-size="12.2" fill="#6a6a6a" textLength="85.1" lengthAdjust="spacingAndGlyphs">USDCAD-,Daily</text>
<text x="448.6" y="581" font-size="12.2" fill="#6a6a6a" textLength="87" lengthAdjust="spacingAndGlyphs">USDCNH-,Daily</text>
<text x="559.2" y="581" font-size="12.2" fill="#6a6a6a" textLength="85.7" lengthAdjust="spacingAndGlyphs">XAUUSD-,Daily</text>
<text x="667.2" y="581" font-size="12.2" fill="#6a6a6a" textLength="68.5" lengthAdjust="spacingAndGlyphs">UKOil-,Daily</text>
<text x="760.3" y="581" font-size="12.2" fill="#6a6a6a" textLength="55.7" lengthAdjust="spacingAndGlyphs">USOil-,H4</text>
<text x="838.6" y="581" font-size="12.2" fill="#6a6a6a" textLength="53.9" lengthAdjust="spacingAndGlyphs">HK50-,H1</text>
<text x="914.1" y="581" font-size="12.2" fill="#6a6a6a" textLength="70.5" lengthAdjust="spacingAndGlyphs">EURCHF-,H1</text>
<text x="1008" y="581" font-size="12.2" fill="#6a6a6a" textLength="56" lengthAdjust="spacingAndGlyphs">USOil-,H4</text>
<text x="1087.3" y="581" font-size="12.2" fill="#6a6a6a" textLength="56.1" lengthAdjust="spacingAndGlyphs">UKOil-,H4</text>
<rect x="328" y="569" width="1" height="14" fill="#555"/>
<rect x="436" y="569" width="1" height="14" fill="#555"/>
<rect x="548" y="569" width="1" height="14" fill="#555"/>
<rect x="657" y="569" width="1" height="14" fill="#555"/>
<rect x="748" y="569" width="1" height="14" fill="#555"/>
<rect x="828" y="569" width="1" height="14" fill="#555"/>
<rect x="904" y="569" width="1" height="14" fill="#555"/>
<rect x="996" y="569" width="1" height="14" fill="#555"/>
<rect x="1077" y="569" width="1" height="14" fill="#555"/>
<rect x="1156" y="569" width="1" height="14" fill="#555"/>
<polygon points="1184.5,571.5 1184.5,578.5 1180.5,575" fill="#000" shape-rendering="auto"/>
<polygon points="1200,571.5 1200,578.5 1204,575" fill="#a0a0a0" shape-rendering="auto"/>
</svg>
</body></html>
